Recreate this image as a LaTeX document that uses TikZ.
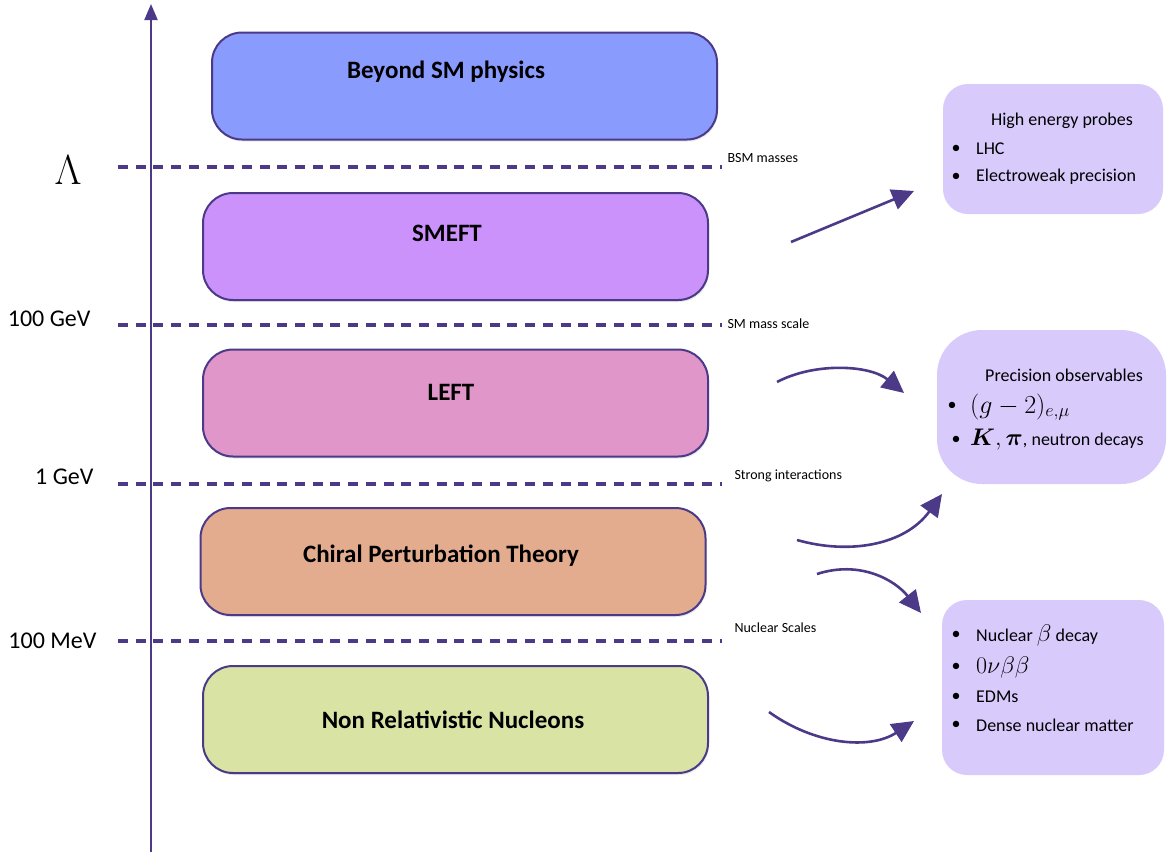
\RequirePackage{fix-cm}
\documentclass[tikz,border=0pt]{standalone}
\usepackage{amsmath}
\usepackage{fontspec}
\setmainfont{Carlito}
\usetikzlibrary{arrows.meta,shadows}
\definecolor{ink}{HTML}{4C3A88}
\definecolor{cbsm}{HTML}{8A9BFE}
\definecolor{csmeft}{HTML}{CC92FC}
\definecolor{cleft}{HTML}{E196CA}
\definecolor{cchi}{HTML}{E3AC8F}
\definecolor{cnr}{HTML}{D9E3A4}
\definecolor{cprobe}{HTML}{D8CBFC}
\tikzset{
  layer/.style={draw=ink, line width=2pt, rounded corners=30pt, minimum width=505pt, minimum height=107pt,
    drop shadow={opacity=0.18, shadow xshift=1pt, shadow yshift=-2pt}},
  layertext/.style={font=\bfseries\fontsize{25}{29}\selectfont},
  scaleline/.style={ink, line width=4pt, dash pattern=on 10pt off 7.7pt},
  scalelabel/.style={font=\fontsize{24}{28}\selectfont, anchor=east},
  smalllabel/.style={font=\fontsize{14}{16}\selectfont, anchor=west},
  probe/.style={fill=cprobe, draw=none, rounded corners=25pt},
  ptext/.style={font=\fontsize{18}{21}\selectfont, anchor=west, inner sep=0pt},
  bul/.style={font=\fontsize{18}{21}\selectfont, inner sep=0pt},
  flow/.style={ink, line width=2.6pt, -{Triangle[length=22pt,width=21pt]}},
}
\begin{document}
\begin{tikzpicture}[x=1pt,y=-1pt]
\useasboundingbox (0,0) rectangle (1167,852);
% axis
\coordinate (axb) at (151,852);
\coordinate (axt) at (151,4);
\draw[ink, line width=2pt, -{Triangle[length=16pt,width=13pt]}] (axb) -- (axt);
% scale lines
\draw[scaleline] (118,167) -- (722,167);
\draw[scaleline] (118,325) -- (722,325);
\draw[scaleline] (118,484) -- (722,484);
\draw[scaleline] (118,641) -- (722,641);
\node (lam) at (68,170) {\fontsize{42}{46}\selectfont$\Lambda$};
\node[scalelabel] (g100) at (94,319) {100 GeV};
\node[scalelabel] (g1) at (97,477) {1 GeV};
\node[scalelabel] (m100) at (100,641) {100 MeV};
\node[smalllabel] (s1) at (724,158) {BSM masses};
\node[smalllabel] (s2) at (724,324) {SM mass scale};
\node[smalllabel] (s3) at (731,476) {Strong interactions};
\node[smalllabel] (s4) at (731,628) {Nuclear Scales};
% layers
\node[layer, fill=cbsm] (bsm) at (464.5,86) {};
\node[layertext] (bsmt) at (446,72) {Beyond SM physics};
\node[layer, fill=csmeft] (smeft) at (455.5,246.5) {};
\node[layertext] (smeftt) at (447,233) {SMEFT};
\node[layer, fill=cleft] (left) at (455.5,403) {};
\node[layertext] (leftt) at (451,392) {LEFT};
\node[layer, fill=cchi] (chpt) at (453,561.5) {};
\node[layertext] (chptt) at (441,556) {Chiral Perturbation Theory};
\node[layer, fill=cnr] (nr) at (455.5,719.5) {};
\node[layertext] (nrt) at (453,720) {Non Relativistic Nucleons};
% probe boxes
\node[probe, minimum width=220pt, minimum height=130pt] (p1) at (1053,149) {};
\node[font=\fontsize{18}{21}\selectfont] (p1t) at (1062,121) {High energy probes};
\node[bul] (p1b1) at (956,149) {•};
\node[ptext] (p1l1) at (976,149) {LHC};
\node[bul] (p1b2) at (956,177) {•};
\node[ptext] (p1l2) at (976,177) {Electroweak precision};

\node[probe, rounded corners=45pt, minimum width=229pt, minimum height=154pt] (p2) at (1051.5,407) {};
\node[font=\fontsize{18}{21}\selectfont] (p2t) at (1064,375) {Precision observables};
\node[bul] (p2b1) at (952,406) {•};
\node[ptext] (p2l1) at (970,407) {\fontsize{26}{30}\selectfont$(g-2)_{e,\mu}$};
\node[bul] (p2b2) at (956,440) {•};
\node[ptext] (p2l2) at (970,440) {\fontsize{24}{28}\selectfont$\boldsymbol{K},\boldsymbol{\pi}$\fontsize{18}{21}\selectfont, neutron decays};

\node[probe, minimum width=222pt, minimum height=175pt] (p3) at (1053,687.5) {};
\node[bul] (p3b1) at (956,635) {•};
\node[ptext] (p3l1) at (976,635) {Nuclear \fontsize{24}{28}\selectfont$\beta$\fontsize{18}{21}\selectfont\ decay};
\node[bul] (p3b2) at (956,667) {•};
\node[ptext] (p3l2) at (976,667) {\fontsize{24}{28}\selectfont$0\nu\beta\beta$};
\node[bul] (p3b3) at (956,697) {•};
\node[ptext] (p3l3) at (976,697) {EDMs};
\node[bul] (p3b4) at (956,725) {•};
\node[ptext] (p3l4) at (976,725) {Dense nuclear matter};
% arrows
\coordinate (a1s) at (791,242);
\coordinate (a1e) at (914,191);
\draw[flow] (a1s) -- (a1e);
\coordinate (a2s) at (777,382);
\coordinate (a2e) at (904,393);
\draw[flow] (a2s) .. controls (815,362) and (870,365) .. (a2e);
\coordinate (a3s) at (797,540);
\coordinate (a3e) at (942,494);
\draw[flow] (a3s) .. controls (850,555) and (905,545) .. (a3e);
\coordinate (a4s) at (817,574);
\coordinate (a4e) at (921,613);
\draw[flow] (a4s) .. controls (860,560) and (895,580) .. (a4e);
\coordinate (a5s) at (769,712);
\coordinate (a5e) at (914,721);
\draw[flow] (a5s) .. controls (815,745) and (870,750) .. (a5e);
\end{tikzpicture}
\end{document}
